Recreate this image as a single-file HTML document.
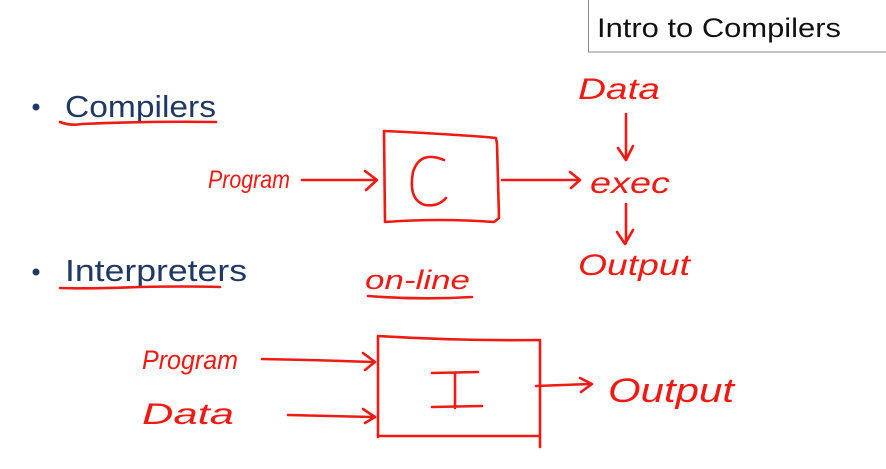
<!DOCTYPE html>
<html><head><meta charset="utf-8"><style>
html,body{margin:0;padding:0;background:#fff;width:886px;height:469px;overflow:hidden}
svg{display:block}
.h{font-family:"Liberation Sans",sans-serif;font-style:italic;fill:#f01a14}
</style></head><body>
<svg width="886" height="469" viewBox="0 0 886 469" xmlns="http://www.w3.org/2000/svg">
<rect x="588.5" y="-1" width="300" height="53" fill="#fff" stroke="#888" stroke-width="1"/>
<text x="597" y="37" font-family="Liberation Sans,sans-serif" font-size="27" fill="#111" textLength="244" lengthAdjust="spacingAndGlyphs">Intro to Compilers</text>
<circle cx="36" cy="107" r="3.5" fill="#1f3864"/>
<text x="65" y="117" font-family="Liberation Sans,sans-serif" font-size="31" fill="#1f3864" textLength="151" lengthAdjust="spacingAndGlyphs">Compilers</text>
<circle cx="36" cy="272" r="3.5" fill="#1f3864"/>
<text x="65" y="281" font-family="Liberation Sans,sans-serif" font-size="31" fill="#1f3864" textLength="182" lengthAdjust="spacingAndGlyphs">Interpreters</text>
<g fill="none" stroke="#f01a14" stroke-width="2.6" stroke-linecap="round" stroke-linejoin="round">
<path d="M60 122 Q70 126 82 124 Q150 121 216 122"/>
<path d="M60 288 Q90 289 140 287 Q185 286 220 287"/>
<path d="M384 131 Q430 133 486 137 L496 138 L497 144 L499 218 L494 222 Q440 218 385 222 L384 131"/>
<path d="M302 180 L375 180 M365 171 L377 180 L366 190"/>
<path d="M502 180 L580 180 M570 172 L580 180 L571 188"/>
<path d="M626 114 L626 158 M618 148 L626 160 L633 146"/>
<path d="M626 204 L626 243 M617 232 L625 244 L633 230"/>
<path d="M368 296 Q420 300 472 297"/>
<path d="M378 336 Q460 341 540 340 M378 336 L378 437 M378 436 L540 436 M540 340 L540 447"/>
<path d="M262 359 Q320 360 372 362 M363 353 L375 362 L365 370"/>
<path d="M288 415 Q330 416 372 417 M363 409 L375 417 L365 423"/>
<path d="M536 386 L590 384 M580 378 L592 384 L581 392"/>
<path d="M432 373 L478 372 M455 373 L455 408 M432 407 L482 406"/>
<path d="M444 160 Q420 150 413 172 Q408 200 425 205 Q438 207 446 198"/>
</g>
<text class="h" x="208" y="188" font-size="25" textLength="82" lengthAdjust="spacingAndGlyphs">Program</text>
<text class="h" x="578" y="99" font-size="30" textLength="82" lengthAdjust="spacingAndGlyphs">Data</text>
<text class="h" x="590" y="193" font-size="30" textLength="80" lengthAdjust="spacingAndGlyphs">exec</text>
<text class="h" x="578" y="275" font-size="30" textLength="112" lengthAdjust="spacingAndGlyphs">Output</text>
<text class="h" x="365" y="289" font-size="27" textLength="105" lengthAdjust="spacingAndGlyphs">on-line</text>
<text class="h" x="142" y="369" font-size="27" textLength="96" lengthAdjust="spacingAndGlyphs">Program</text>
<text class="h" x="142" y="424" font-size="30" textLength="92" lengthAdjust="spacingAndGlyphs">Data</text>
<text class="h" x="608" y="402" font-size="34" textLength="126" lengthAdjust="spacingAndGlyphs">Output</text>
</svg>
</body></html>
